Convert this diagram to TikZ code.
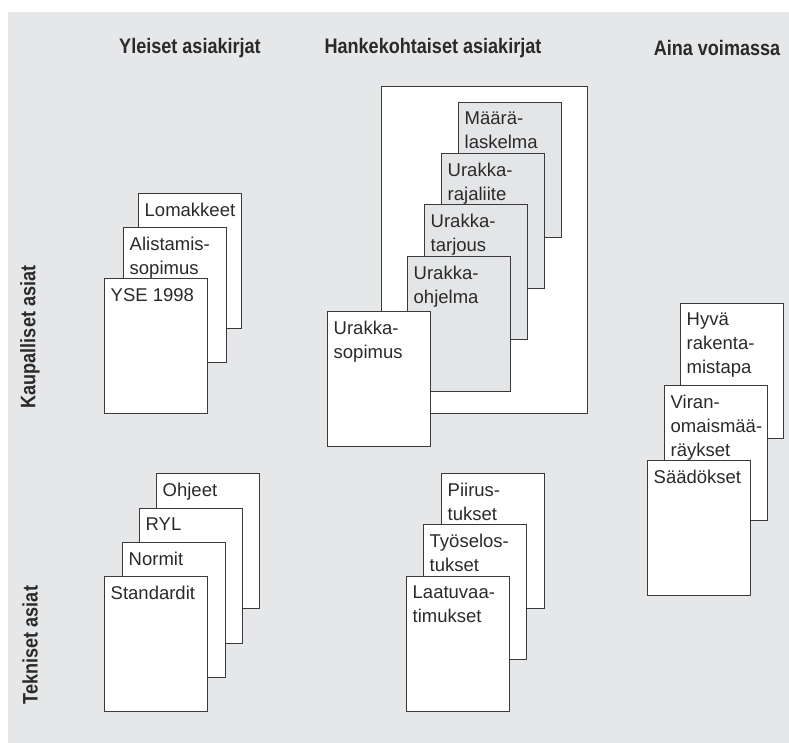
\documentclass[tikz,border=0pt]{standalone}
\usepackage{fontspec}
\setmainfont{Liberation Sans}
\newfontfamily\hdfont[FakeStretch=0.86]{Liberation Sans}
\definecolor{bg}{HTML}{E6E7E9}
\definecolor{inner}{HTML}{E4E5E7}
\definecolor{ln}{HTML}{3A3A3A}
\definecolor{tx}{HTML}{2A2A2A}
\tikzset{
  docbox/.style={draw=ln, line width=1.4pt, fill=white, anchor=north west, minimum width=103pt, minimum height=135pt, inner sep=0pt},
  graybox/.style={docbox, fill=inner},
  doctext/.style={anchor=north west, inner sep=0pt, align=left, text=tx, font=\fontsize{18.5}{24}\selectfont, xshift=6.5pt, yshift=-10pt},
  head/.style={inner sep=0pt, text=tx, font=\hdfont\bfseries\fontsize{21}{24}\selectfont},
}
\begin{document}
\begin{tikzpicture}[x=1pt,y=-1pt]
\useasboundingbox (0,0) rectangle (789,743);
\fill[bg] (8,12) rectangle (789,743);
% headers
\node[head] (h1) at (190,48) {Yleiset asiakirjat};
\node[head] (h2) at (433,48) {Hankekohtaiset asiakirjat};
\node[head] (h3) at (717,48) {Aina voimassa};
\node[head, rotate=90] (v1) at (30,337) {Kaupalliset asiat};
\node[head, rotate=90] (v2) at (30,645) {Tekniset asiat};
% Yleiset - kaupalliset
\node[docbox] (lom) at (138,193) {};
\node[doctext] at (lom.north west) {Lomakkeet};
\node[docbox] (ali) at (123,227) {};
\node[doctext] at (ali.north west) {Alistamis-\\sopimus};
\node[docbox] (yse) at (104,278) {};
\node[doctext] at (yse.north west) {YSE 1998};
% Hankekohtaiset - kaupalliset
\node[draw=ln, line width=1.4pt, fill=white, anchor=north west, minimum width=206pt, minimum height=327pt, inner sep=0pt] (frame) at (381,86) {};
\node[graybox] (maa) at (458,102) {};
\node[doctext] at (maa.north west) {Määrä-\\laskelma};
\node[graybox] (raj) at (441,153) {};
\node[doctext] at (raj.north west) {Urakka-\\rajaliite};
\node[graybox] (tar) at (424,204) {};
\node[doctext] at (tar.north west) {Urakka-\\tarjous};
\node[graybox] (ohj) at (407,256) {};
\node[doctext] at (ohj.north west) {Urakka-\\ohjelma};
\node[docbox] (sop) at (327,311) {};
\node[doctext] at (sop.north west) {Urakka-\\sopimus};
% Aina voimassa
\node[docbox] (hyv) at (680,303) {};
\node[doctext] at (hyv.north west) {Hyvä\\rakenta-\\mistapa};
\node[docbox] (vir) at (664,385) {};
\node[doctext] at (vir.north west) {Viran-\\omaismää-\\räykset};
\node[docbox] (saa) at (647,460) {};
\node[doctext] at (saa.north west) {Säädökset};
% Yleiset - tekniset
\node[docbox] (ohje) at (156,473) {};
\node[doctext] at (ohje.north west) {Ohjeet};
\node[docbox] (ryl) at (139,508) {};
\node[doctext] at (ryl.north west) {RYL};
\node[docbox] (nor) at (122,542) {};
\node[doctext] at (nor.north west) {Normit};
\node[docbox] (sta) at (104,576) {};
\node[doctext] at (sta.north west) {Standardit};
% Hankekohtaiset - tekniset
\node[docbox] (pii) at (441,473) {};
\node[doctext] at (pii.north west) {Piirus-\\tukset};
\node[docbox] (tyo) at (423,524) {};
\node[doctext] at (tyo.north west) {Työselos-\\tukset};
\node[docbox] (laa) at (406,576) {};
\node[doctext] at (laa.north west) {Laatuvaa-\\timukset};
\end{tikzpicture}
\end{document}
